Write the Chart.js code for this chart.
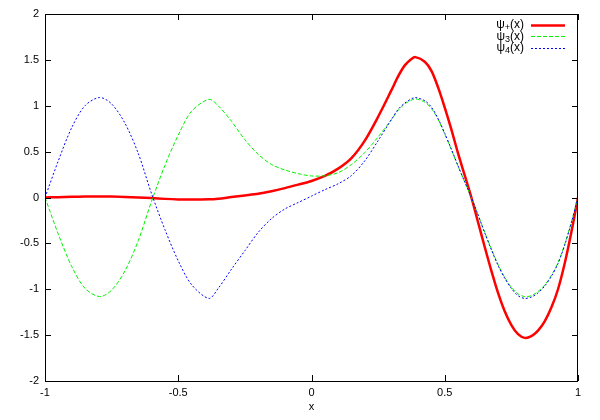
<!DOCTYPE html>
<html>
<head>
<meta charset="utf-8">
<script src="https://cdn.jsdelivr.net/npm/chart.js@4"></script>
<style>
html,body{margin:0;padding:0;background:#fff;}
#wrap{width:600px;height:420px;}
</style>
</head>
<body>
<div id="wrap"><canvas id="c" width="600" height="420"></canvas></div>
<script>
const xs = [-1,-0.95,-0.9,-0.85,-0.795,-0.75,-0.7,-0.65,-0.6,-0.55,-0.5,-0.45,-0.385,-0.35,-0.3,-0.25,-0.2,-0.15,-0.1,-0.05,0,0.05,0.1,0.15,0.2,0.25,
  0.3,0.325,0.35,0.375,0.39,0.425,0.45,0.475,0.5,0.525,0.55,0.575,0.6,0.625,0.65,0.675,0.7,0.725,0.75,0.775,0.8,0.825,0.85,0.875,0.9,0.925,0.95,0.975,1];
const psiPlus = [0,0.003,0.008,0.01,0.01,0.01,0.006,0.0,-0.006,-0.015,-0.021,-0.023,-0.02,-0.013,0.005,0.022,0.04,0.068,0.102,0.14,0.18,0.235,0.315,0.43,0.62,0.88,
  1.17,1.32,1.44,1.51,1.53,1.48,1.38,1.2,0.98,0.74,0.48,0.24,0.0,-0.27,-0.54,-0.8,-1.04,-1.24,-1.39,-1.49,-1.53,-1.51,-1.45,-1.35,-1.2,-1.0,-0.72,-0.38,0];
const psi3 = [0,-0.4,-0.75,-0.99,-1.08,-1.01,-0.8,-0.47,-0.04,0.35,0.68,0.94,1.07,1.0,0.83,0.63,0.47,0.36,0.30,0.26,0.235,0.237,0.27,0.36,0.49,0.66,
  0.85,0.95,1.02,1.06,1.075,1.04,0.97,0.85,0.69,0.52,0.34,0.17,0.0,-0.19,-0.38,-0.56,-0.73,-0.87,-0.98,-1.05,-1.08,-1.07,-1.025,-0.955,-0.85,-0.71,-0.51,-0.27,0];
const psi4 = [0,0.4,0.76,1.0,1.09,1.02,0.81,0.48,0.04,-0.35,-0.69,-0.95,-1.10,-0.99,-0.78,-0.58,-0.38,-0.23,-0.125,-0.055,0.015,0.085,0.15,0.24,0.40,0.62,
  0.85,0.96,1.03,1.075,1.09,1.055,0.985,0.86,0.70,0.525,0.345,0.17,0.0,-0.19,-0.385,-0.57,-0.74,-0.88,-0.99,-1.07,-1.10,-1.085,-1.04,-0.965,-0.86,-0.72,-0.52,-0.275,0];
const xTicks = [-1,-0.5,0,0.5,1];
const yTicks = [-2,-1.5,-1,-0.5,0,0.5,1,1.5,2];
const labels = ["\u03C8+(x)","\u03C83(x)","\u03C84(x)"];
const subs = ["+","3","4"];

const FONT = "'Liberation Sans', Arial, sans-serif";
const pts = arr => arr.map((v,i)=>({x:xs[i], y:v}));

const framePlugin = {
  id:'frame',
  afterDatasetsDraw(chart){
    const {ctx, chartArea:a, scales} = chart;
    ctx.save();
    ctx.strokeStyle='#000'; ctx.lineWidth=1;
    ctx.strokeRect(Math.round(a.left)+0.5, Math.round(a.top)+0.5, Math.round(a.right-a.left)-1, Math.round(a.bottom-a.top));
    const L=6;
    ctx.beginPath();
    scales.x.ticks.forEach(t=>{
      const px=Math.round(scales.x.getPixelForValue(t.value))+0.5;
      ctx.moveTo(px,a.bottom); ctx.lineTo(px,a.bottom-L);
      ctx.moveTo(px,a.top); ctx.lineTo(px,a.top+L);
    });
    scales.y.ticks.forEach(t=>{
      const py=Math.round(scales.y.getPixelForValue(t.value))+0.5;
      ctx.moveTo(a.left,py); ctx.lineTo(a.left+L,py);
      ctx.moveTo(a.right,py); ctx.lineTo(a.right-L,py);
    });
    ctx.stroke();
    // legend
    const ds = chart.data.datasets;
    const textRight = a.right - 54, lx0 = a.right - 47, lx1 = a.right - 13;
    ds.forEach((d,i)=>{
      const yy = a.top + 10.5 + i*11.7;
      ctx.fillStyle='#000';
      ctx.textBaseline='middle';
      const main1="\u03C8", rest="(x)";
      ctx.font = "12px " + FONT;
      const w1=ctx.measureText(main1).width, w3=ctx.measureText(rest).width;
      ctx.font = "9px " + FONT;
      const w2=ctx.measureText(subs[i]).width;
      let x = textRight - (w1+w2+w3);
      ctx.textAlign='left';
      ctx.font = "12px " + FONT; ctx.fillText(main1, x, yy); x+=w1;
      ctx.font = "9px " + FONT; ctx.fillText(subs[i], x, yy+3); x+=w2;
      ctx.font = "12px " + FONT; ctx.fillText(rest, x, yy);
      ctx.beginPath();
      ctx.strokeStyle=d.borderColor; ctx.lineWidth=d.borderWidth;
      ctx.setLineDash(d.borderDash||[]);
      ctx.moveTo(lx0, Math.round(yy)+0.5); ctx.lineTo(lx1, Math.round(yy)+0.5);
      ctx.stroke();
      ctx.setLineDash([]);
    });
    ctx.restore();
  }
};

new Chart(document.getElementById('c'), {
  type:'line',
  data:{
    datasets:[
      {label:labels[0], data:pts(psiPlus), borderColor:'rgb(255,0,0)', borderWidth:2.5, pointRadius:0, tension:0.3, order:3, fill:false},
      {label:labels[1], data:pts(psi3), borderColor:'rgb(0,240,0)', borderWidth:1, borderDash:[4,2], pointRadius:0, tension:0.3, order:2, fill:false},
      {label:labels[2], data:pts(psi4), borderColor:'rgb(0,0,255)', borderWidth:1, borderDash:[2,2], pointRadius:0, tension:0.3, order:1, fill:false}
    ]
  },
  options:{
    responsive:false, animation:false, devicePixelRatio:1,
    layout:{padding:{top:14,right:22,left:0,bottom:0}},
    plugins:{legend:{display:false}, tooltip:{enabled:false}},
    scales:{
      x:{type:'linear', min:-1, max:1,
        afterBuildTicks(s){ s.ticks = xTicks.map(v=>({value:v})); },
        afterFit(s){ s.height = 39; },
        grid:{display:false, drawTicks:false}, border:{display:false},
        ticks:{color:'#000', font:{family:FONT,size:11}, padding:5, maxRotation:0, callback:v=>String(v)},
        title:{display:true, text:'x', color:'#000', font:{family:FONT,size:11}, padding:{top:0,bottom:6}}
      },
      y:{type:'linear', min:-2, max:2,
        afterBuildTicks(s){ s.ticks = yTicks.map(v=>({value:v})); },
        afterFit(s){ s.width = 45; },
        grid:{display:false, drawTicks:false}, border:{display:false},
        ticks:{color:'#000', font:{family:FONT,size:11}, padding:6, callback:v=>String(v)}
      }
    }
  },
  plugins:[framePlugin]
});
</script>
</body>
</html>
